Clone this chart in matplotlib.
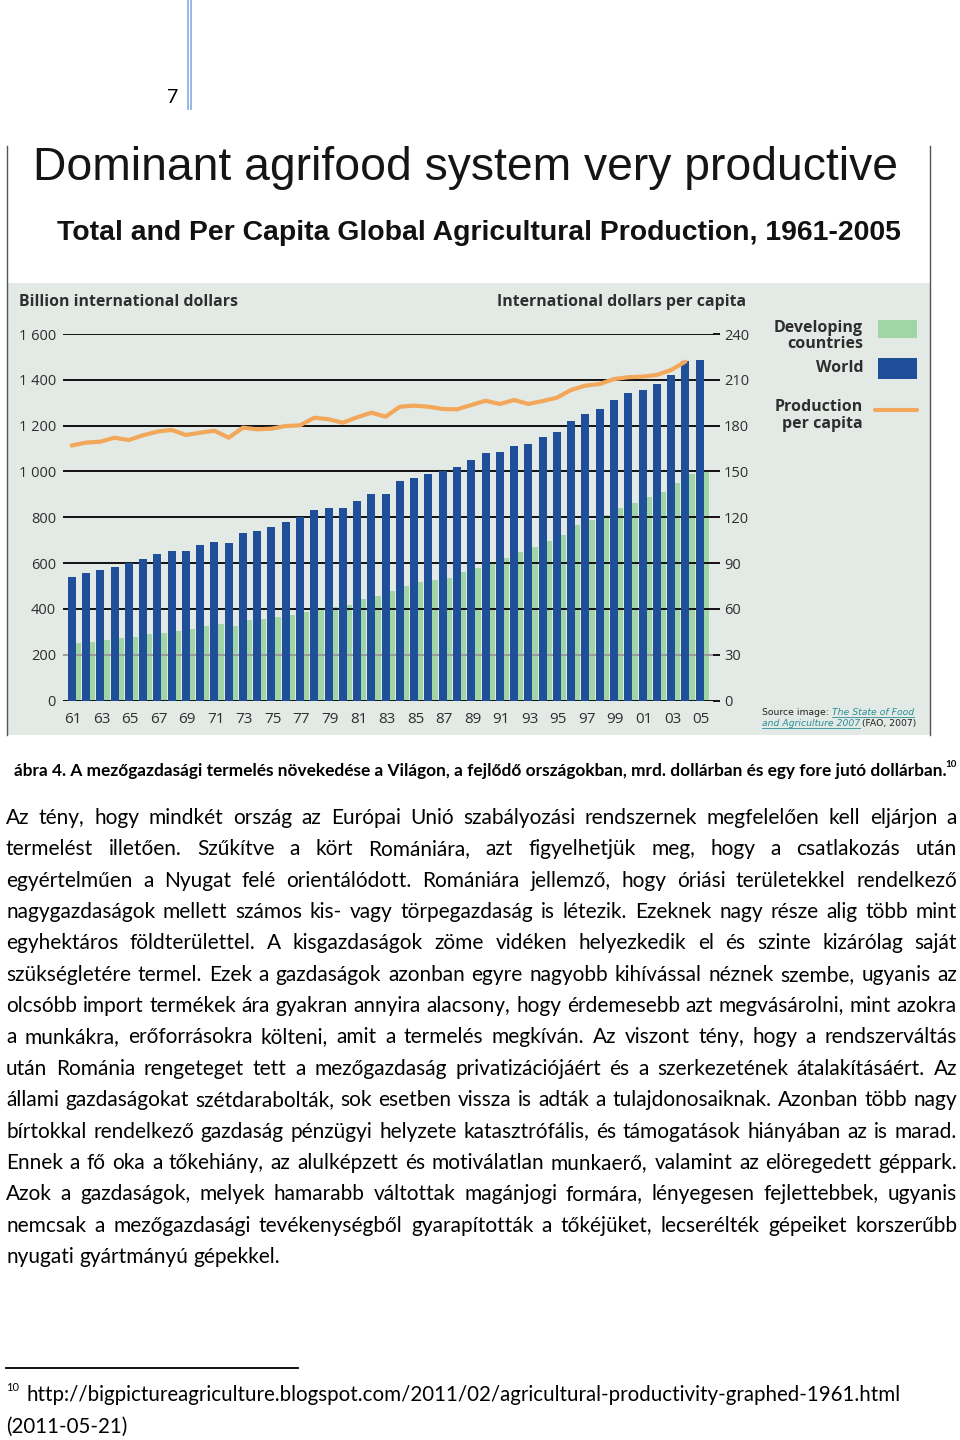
import numpy as np
import matplotlib
matplotlib.use('Agg')
import matplotlib.pyplot as plt
from matplotlib.patches import Rectangle

# data
years = np.arange(1961, 2006)
world = [541, 556, 570, 585, 600, 617, 640, 655, 655, 680, 694, 687, 733, 741, 756,
         779, 800, 832, 840, 841, 872, 903, 903, 957, 972, 988, 1000, 1018, 1049, 1080,
         1087, 1112, 1119, 1150, 1172, 1220, 1249, 1273, 1311, 1342, 1356, 1381, 1419,
         1480, 1487]
developing = [250, 257, 265, 272, 279, 290, 296, 304, 311, 326, 335, 327, 350, 357, 366,
              374, 388, 403, 408, 417, 442, 457, 480, 501, 517, 527, 533, 563, 579, 602,
              624, 649, 672, 697, 723, 766, 789, 811, 842, 864, 888, 910, 949, 988, 1003]
pc_years = np.arange(1961, 2005)
per_capita = [167.0, 168.9, 169.5, 172.1, 170.6, 173.7, 176.1, 177.2, 173.9, 175.4,
              176.7, 172.1, 178.7, 177.6, 178.0, 179.8, 180.2, 185.2, 184.2, 181.9,
              185.5, 188.5, 185.9, 192.4, 193.1, 192.4, 190.9, 190.7, 193.5, 196.3,
              194.2, 196.8, 194.2, 196.1, 198.3, 203.4, 206.2, 207.3, 210.5, 211.7,
              212.1, 213.2, 216.4, 221.9]
left_ticks = [0, 200, 400, 600, 800, 1000, 1200, 1400, 1600]
right_ticks = [0, 30, 60, 90, 120, 150, 180, 210, 240]

body = [
    "Az tény, hogy mindkét ország az Európai Unió szabályozási rendszernek megfelelően kell eljárjon a",
    "termelést illetően. Szűkítve a kört Romániára, azt figyelhetjük meg, hogy a csatlakozás után",
    "egyértelműen a Nyugat felé orientálódott. Romániára jellemző, hogy óriási területekkel rendelkező",
    "nagygazdaságok mellett számos kis- vagy törpegazdaság is létezik. Ezeknek nagy része alig több mint",
    "egyhektáros földterülettel. A kisgazdaságok zöme vidéken helyezkedik el és szinte kizárólag saját",
    "szükségletére termel. Ezek a gazdaságok azonban egyre nagyobb kihívással néznek szembe, ugyanis az",
    "olcsóbb import termékek ára gyakran annyira alacsony, hogy érdemesebb azt megvásárolni, mint azokra",
    "a munkákra, erőforrásokra költeni, amit a termelés megkíván. Az viszont tény, hogy a rendszerváltás",
    "után Románia rengeteget tett a mezőgazdaság privatizációjáért és a szerkezetének átalakításáért. Az",
    "állami gazdaságokat szétdarabolták, sok esetben vissza is adták a tulajdonosaiknak. Azonban több nagy",
    "bírtokkal rendelkező gazdaság pénzügyi helyzete katasztrófális, és támogatások hiányában az is marad.",
    "Ennek a fő oka a tőkehiány, az alulképzett és motiválatlan munkaerő, valamint az elöregedett géppark.",
    "Azok a gazdaságok, melyek hamarabb váltottak magánjogi formára, lényegesen fejlettebbek, ugyanis",
    "nemcsak a mezőgazdasági tevékenységből gyarapították a tőkéjüket, lecserélték gépeiket korszerűbb",
    "nyugati gyártmányú gépekkel.",
]

blue = '#1f4f98'
green = '#a2d5a6'
orange = '#f2a75a'
bg = '#e3eae5'
ink = '#2e2e2e'
doc_font = 'Lato'
chart_font = 'Open Sans'

fig = plt.figure(figsize=(9.6, 14.4), dpi=100, facecolor='white')
r = fig.canvas.get_renderer()

# page axes in pixel coordinates
page = fig.add_axes([0, 0, 1, 1], zorder=0)
page.set_xlim(0, 960)
page.set_ylim(1440, 0)
page.axis('off')


def fit(t, target):
    w = t.get_window_extent(r).width
    t.set_fontsize(t.get_fontsize() * target / w)
    return t


# header bits
page.plot([187.5, 187.5], [0, 109], color='#8db3e2', lw=1.3)
page.plot([190.5, 190.5], [0, 109], color='#8db3e2', lw=1.3)
page.text(178, 103, '7', family=doc_font, fontsize=14, ha='right', va='baseline')

# chart picture frame
page.add_patch(Rectangle((7, 283), 923, 452, facecolor=bg, edgecolor='none'))
page.plot([6.5, 6.5], [146, 735], color='#555555', lw=1)
page.plot([930, 930], [146, 735], color='#555555', lw=1)

t = page.text(33, 180, 'Dominant agrifood system very productive',
              family='Liberation Sans', fontsize=30, va='baseline', color='#151515')
fit(t, 862)
t = page.text(57, 240, 'Total and Per Capita Global Agricultural Production, 1961-2005',
              family='Liberation Sans', weight='bold', fontsize=19, va='baseline', color='#111111')
fit(t, 843)

t = page.text(19, 302, 'Billion international dollars', family=chart_font, weight='bold',
              fontsize=9, va='center', color=ink)
fit(t, 219)
t = page.text(746, 302, 'International dollars per capita', family=chart_font, weight='bold',
              fontsize=9, va='center', ha='right', color=ink)
fit(t, 248)

# legend
lkw = dict(family=chart_font, weight='bold', fontsize=11.5, ha='right', va='center', color=ink)
page.text(863, 328, 'Developing', **lkw)
page.text(863, 344, 'countries', **lkw)
page.text(863, 368, 'World', **lkw)
page.text(863, 407, 'Production', **lkw)
page.text(863, 424, 'per capita', **lkw)
page.add_patch(Rectangle((878, 320), 39, 18, facecolor=green, edgecolor='none'))
page.add_patch(Rectangle((878, 358), 39, 21, facecolor=blue, edgecolor='none'))
page.plot([875, 917], [410, 410], color=orange, lw=3, solid_capstyle='round')

# source note
sfs = 6.7
skw = dict(family='DejaVu Sans', fontsize=sfs, va='baseline')
t1 = page.text(762, 715, 'Source image: ', color='#222222', **skw)
x1 = 762 + t1.get_window_extent(r).width
t2 = page.text(x1, 715, 'The State of Food', color='#2a8f95', style='italic', **skw)
w2 = t2.get_window_extent(r).width
page.plot([x1, x1 + w2], [717, 717], color='#2a8f95', lw=0.6)
t3 = page.text(762, 726, 'and Agriculture 2007', color='#2a8f95', style='italic', **skw)
w3 = t3.get_window_extent(r).width
page.plot([762, 762 + w3], [728, 728], color='#2a8f95', lw=0.6)
page.text(762 + w3 + 2, 726, '(FAO, 2007)', color='#222222', **skw)

# the chart itself
ax = fig.add_axes([63 / 960, 1 - 700.6 / 1440, 650 / 960, 366.6 / 1440], zorder=1)
ax.set_facecolor('none')
ax.set_xlim(1960.39, 2005.94)
ax.set_ylim(0, 1600)
ax.bar(years + 0.37, developing, width=0.56, color=green, zorder=1)
for v in left_ticks:
    ax.axhline(v, color='#999999' if v == 200 else '#111111', lw=1.4, zorder=2)
ax.bar(years, world, width=0.56, color=blue, zorder=3)
for s in ax.spines.values():
    s.set_visible(False)
ax.set_yticks(left_ticks)
ax.set_yticklabels([f'{v:,}'.replace(',', ' ') for v in left_ticks],
                   family=chart_font, fontsize=10.5, color=ink)
ax.tick_params(axis='y', length=0, pad=5)
odd = years[::2]
ax.set_xticks(odd + 0.1)
ax.set_xticklabels([f'{y % 100:02d}' for y in odd], family=chart_font, fontsize=11, color=ink)
ax.tick_params(axis='x', length=0, pad=8)

ax2 = ax.twinx()
ax2.set_ylim(0, 240)
ax2.plot(pc_years, per_capita, color=orange, lw=3, solid_capstyle='round', zorder=4)
for s in ax2.spines.values():
    s.set_visible(False)
ax2.set_yticks(right_ticks)
ax2.set_yticklabels([str(v) for v in right_ticks], family=chart_font, fontsize=10.5, color=ink)
ax2.tick_params(axis='y', length=5, width=1.4, color='#111111', direction='out', pad=3)

# caption
t = page.text(14, 776, 'ábra 4. A mezőgazdasági termelés növekedése a Világon, a fejlődő '
              'országokban, mrd. dollárban és egy fore jutó dollárban.',
              family=doc_font, weight='bold', fontsize=11, va='baseline')
fit(t, 926)
page.text(945, 767, '10', family=doc_font, weight='bold', fontsize=7, va='baseline')

# justified body text
fs0 = 14.0


def wid(s, fs):
    tt = page.text(0, 0, s, family=doc_font, fontsize=fs)
    w = tt.get_window_extent(r).width
    tt.remove()
    return w


sp = wid('a a', fs0) - wid('aa', fs0)
nat = [sum(wid(w, fs0) for w in ln.split()) + sp * (len(ln.split()) - 1) for ln in body[:-1]]
fs = fs0 * 949 / max(nat)
left, right = 6, 957
for i, ln in enumerate(body):
    yb = 824 + i * 31.35
    words = ln.split()
    ws = [wid(w, fs) for w in words]
    if i < len(body) - 1:
        gap = (right - left - sum(ws)) / (len(words) - 1)
    else:
        gap = sp * fs / fs0
    x = left
    for w, wd in zip(words, ws):
        page.text(x, yb, w, family=doc_font, fontsize=fs, va='baseline')
        x += wd + gap

# footnote
page.plot([6, 298], [1368, 1368], color='black', lw=1.3)
page.text(6, 1391, '10', family=doc_font, fontsize=8, va='baseline')
t = page.text(26, 1401, 'http://bigpictureagriculture.blogspot.com/2011/02/agricultural-productivity-graphed-1961.html',
              family=doc_font, fontsize=14, va='baseline')
fit(t, 877)
page.text(6, 1433, '(2011-05-21)', family=doc_font, fontsize=t.get_fontsize(), va='baseline')

fig.savefig('out.png', dpi=100)
